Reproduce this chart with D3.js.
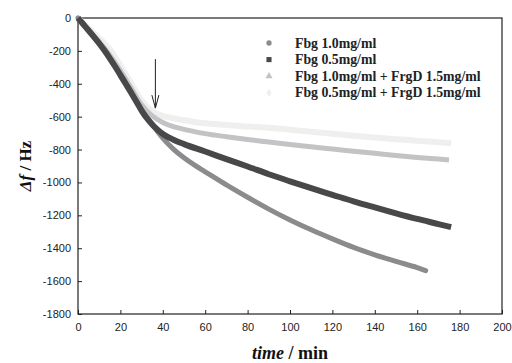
<!DOCTYPE html>
<html>
<head>
<meta charset="utf-8">
<script src="https://cdn.jsdelivr.net/npm/d3@7"></script>
<style>
  body { margin: 0; background: #fff; }
  svg { display: block; }
  .tick text { font-family: "Liberation Sans", Arial, sans-serif; font-size: 11px; fill: #222; }
</style>
</head>
<body>
<svg id="chart" width="512" height="363"></svg>
<script>

// Δf (Hz), time in min
let fbg10_t = [0, 2.5, 5, 7.5, 10, 12.5, 15, 17.5, 20, 22.5, 25, 27.5, 30, 32.5, 35, 37.5, 40, 45, 50, 55, 60, 70, 80, 90, 100, 110, 120, 130, 140, 150, 160, 164]
let fbg10_v = [0, -38, -76, -114, -154, -196, -242, -292, -344, -396, -450, -505, -558, -604, -644, -690, -730, -797, -850, -895, -935, -1015, -1090, -1162, -1228, -1288, -1343, -1395, -1440, -1480, -1518, -1536]

let fbg05_t = [0, 2.5, 5, 7.5, 10, 12.5, 15, 17.5, 20, 22.5, 25, 27.5, 30, 32.5, 35, 37.5, 40, 45, 50, 60, 70, 80, 90, 100, 110, 120, 130, 140, 150, 160, 170, 176]
let fbg05_v = [0, -38, -76, -115, -155, -198, -245, -295, -347, -400, -453, -508, -563, -610, -648, -680, -705, -740, -767, -812, -858, -903, -950, -993, -1035, -1075, -1115, -1152, -1188, -1222, -1253, -1272]

let fbg10frg_t = [0, 5, 10, 15, 20, 25, 30, 35, 40, 45, 50, 60, 70, 80, 90, 100, 110, 120, 130, 140, 150, 160, 170, 175]
let fbg10frg_v = [0, -72, -144, -226, -320, -425, -528, -595, -635, -660, -677, -703, -722, -739, -754, -769, -783, -797, -810, -823, -836, -848, -858, -863]

let fbg05frg_t = [0, 5, 10, 15, 20, 25, 30, 35, 40, 45, 50, 55, 60, 70, 80, 90, 100, 110, 120, 130, 140, 150, 160, 170, 176]
let fbg05frg_v = [0, -62, -122, -190, -288, -395, -500, -565, -595, -610, -622, -632, -640, -650, -660, -667, -679, -692, -704, -716, -727, -737, -746, -755, -762]

let legendLabels = ['Fbg 1.0mg/ml', 'Fbg 0.5mg/ml', 'Fbg 1.0mg/ml + FrgD 1.5mg/ml', 'Fbg 0.5mg/ml + FrgD 1.5mg/ml']
let xTicks = [0, 20, 40, 60, 80, 100, 120, 140, 160, 180, 200]
let yTicks = [0, -200, -400, -600, -800, -1000, -1200, -1400, -1600, -1800]

// arrow marking the FrgD addition
let arrowT = 36.5
let arrowFrom = -250
let arrowTo = -548

let svg = d3.select('#chart'),
    plotL = 78, plotR = 502, plotT = 18, plotB = 314

let x = d3.scaleLinear().domain([0, 200]).range([plotL, plotR])
let y = d3.scaleLinear().domain([0, -1800]).range([plotT, plotB])

// frame
svg.append('rect')
    .attr('x', plotL).attr('y', plotT)
    .attr('width', plotR - plotL).attr('height', plotB - plotT)
    .attr('fill', 'none').attr('stroke', '#222').attr('stroke-width', 1.2)

let plain = function (d) { return String(d) }

let xAxis = svg.append('g')
    .attr('transform', 'translate(0,' + plotB + ')')
    .call(d3.axisBottom(x).tickValues(xTicks).tickFormat(plain).tickSizeInner(-4).tickSizeOuter(0).tickPadding(9))
let yAxis = svg.append('g')
    .attr('transform', 'translate(' + plotL + ',0)')
    .call(d3.axisLeft(y).tickValues(yTicks).tickFormat(plain).tickSizeInner(-4).tickSizeOuter(0).tickPadding(7))

xAxis.select('.domain').remove()
yAxis.select('.domain').remove()
svg.selectAll('.tick line').attr('stroke', '#222')

let series = [
    { t: fbg05frg_t, v: fbg05frg_v, color: '#eef0ee', width: 6, cap: 'butt' },
    { t: fbg10frg_t, v: fbg10frg_v, color: '#c3c3c6', width: 5, cap: 'butt' },
    { t: fbg10_t, v: fbg10_v, color: '#8b8b8e', width: 5, cap: 'round' },
    { t: fbg05_t, v: fbg05_v, color: '#48484b', width: 6, cap: 'butt' }
]

let line = d3.line()
    .x(function (d) { return x(d[0]) })
    .y(function (d) { return y(d[1]) })
    .curve(d3.curveMonotoneX)

series.forEach(function (s) {
    let pts = s.t.map(function (t, i) { return [t, s.v[i]] })
    svg.append('path')
        .datum(pts)
        .attr('d', line)
        .attr('fill', 'none')
        .attr('stroke', s.color)
        .attr('stroke-width', s.width)
        .attr('stroke-linecap', s.cap)
        .attr('stroke-linejoin', 'round')
})

// arrow
let ax = x(arrowT)
svg.append('line')
    .attr('x1', ax).attr('x2', ax)
    .attr('y1', y(arrowFrom)).attr('y2', y(arrowTo))
    .attr('stroke', '#222').attr('stroke-width', 1)
svg.append('path')
    .attr('d', 'M' + (ax - 3.5) + ',' + (y(arrowTo) - 13) + 'L' + ax + ',' + y(arrowTo) + 'L' + (ax + 3.5) + ',' + (y(arrowTo) - 13))
    .attr('fill', 'none').attr('stroke', '#222').attr('stroke-width', 1)

// legend
let legendColors = ['#8b8b8e', '#48484b', '#c3c3c6', '#eef0ee']
let legendShapes = [d3.symbolCircle, d3.symbolSquare, d3.symbolTriangle, d3.symbolDiamond]
let legend = svg.append('g').attr('transform', 'translate(269,43)')
legendLabels.forEach(function (lab, i) {
    let g = legend.append('g').attr('transform', 'translate(0,' + (i * 16.6) + ')')
    g.append('path')
        .attr('d', d3.symbol().type(legendShapes[i]).size(i == 1 ? 26 : 22)())
        .attr('fill', legendColors[i])
    g.append('text')
        .attr('x', 26).attr('y', 4.5)
        .attr('font-family', '"Liberation Serif", "Times New Roman", serif')
        .attr('font-weight', 'bold')
        .attr('font-size', '13.8px')
        .attr('fill', '#222')
        .text(lab)
})

// axis titles
let xt = svg.append('text')
    .attr('x', (plotL + plotR) / 2).attr('y', 359)
    .attr('text-anchor', 'middle')
    .attr('font-family', '"Liberation Serif", "Times New Roman", serif')
    .attr('font-weight', 'bold')
    .attr('font-size', '18px')
    .attr('fill', '#111')
xt.append('tspan').attr('font-style', 'italic').text('time')
xt.append('tspan').text(' / min')

let yt = svg.append('text')
    .attr('transform', 'translate(31,' + ((plotT + plotB) / 2) + ') rotate(-90)')
    .attr('text-anchor', 'middle')
    .attr('font-family', '"Liberation Serif", "Times New Roman", serif')
    .attr('font-weight', 'bold')
    .attr('font-size', '17px')
    .attr('fill', '#111')
yt.append('tspan').attr('font-style', 'italic').text('Δf')
yt.append('tspan').text(' / Hz')

</script>
</body>
</html>
